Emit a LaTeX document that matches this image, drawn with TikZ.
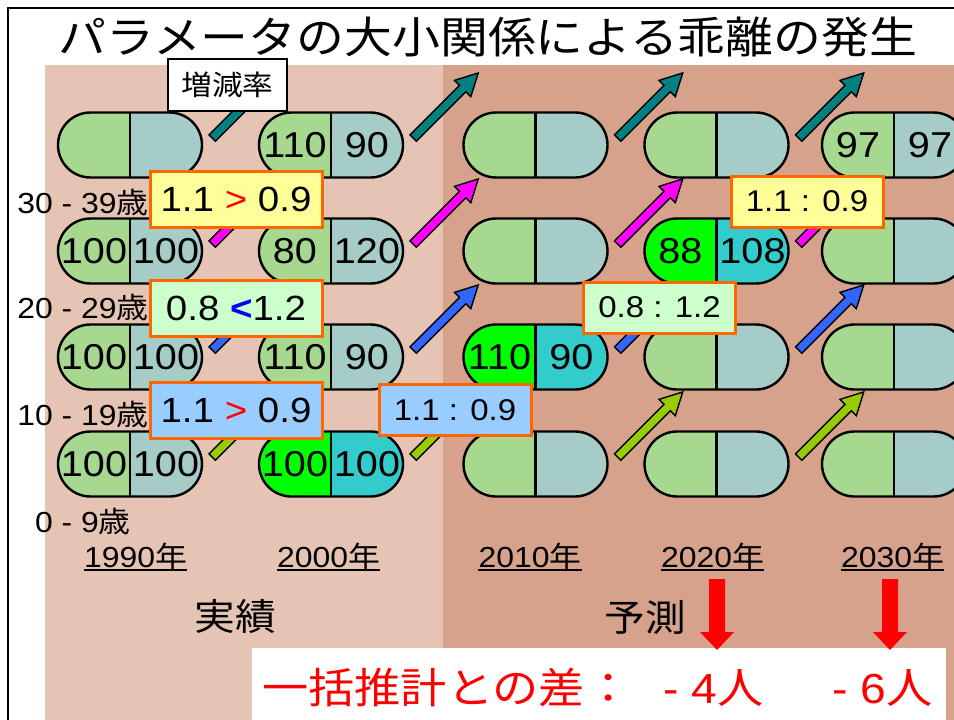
\documentclass[tikz,border=0pt]{standalone}
\usepackage{fontspec}
\setmainfont[FakeStretch=1.1]{Liberation Sans}
\newfontfamily\jp[FakeStretch=1.1]{Noto Sans CJK JP}
\usetikzlibrary{shapes.misc,calc}
\definecolor{bgl}{HTML}{E6C4B4}
\definecolor{bgd}{HTML}{D6A28C}
\definecolor{capl}{HTML}{A6D890}
\definecolor{capr}{HTML}{A6CCC8}
\definecolor{solidl}{HTML}{00FF00}
\definecolor{solidr}{HTML}{33CCCC}
\definecolor{rteal}{HTML}{008080}
\definecolor{rmag}{HTML}{FF00FF}
\definecolor{rblue}{HTML}{3366FF}
\definecolor{rolive}{HTML}{99CC00}
\definecolor{lyel}{HTML}{FFFF99}
\definecolor{lgrn}{HTML}{CCFFCC}
\definecolor{lblu}{HTML}{99CCFF}
\definecolor{lorange}{HTML}{FF6600}
\newcommand\fsz[1]{\fontsize{#1}{#1}\selectfont}
\newcommand\blkarrow[2]{%
  \begin{scope}[shift={($(#1.east)+(9,-7)$)}, rotate=45]
    \draw[line width=1.4pt, line join=miter, fill=#2]
      (0,-4.5) -- (70,-4.5) -- (70,-11.5) -- (92,0) -- (70,11.5) -- (70,4.5) -- (0,4.5) -- cycle;
  \end{scope}}
\newcommand\capnums[3]{%
  \node[num] (#1l) at ([xshift=-36pt]#1.center) {#2};
  \node[num] (#1r) at ([xshift=36pt]#1.center) {#3};}
\begin{document}
\begin{tikzpicture}[x=1pt,y=-1pt,
  capsule/.style 2 args={rounded rectangle, draw, line width=2.4pt,
    minimum width=144pt, minimum height=65pt, inner sep=0pt,
    path picture={
      \fill[#1] (path picture bounding box.south west) rectangle (path picture bounding box.north);
      \fill[#2] (path picture bounding box.south) rectangle (path picture bounding box.north east);
      \draw[line width=2.4pt] (path picture bounding box.south) -- (path picture bounding box.north);}},
  pat/.style={capsule={capl}{capr}},
  sol/.style={capsule={solidl}{solidr}},
  num/.style={font=\fsz{36}, inner sep=0pt},
  biglbl/.style={draw=lorange, line width=3pt, inner sep=0pt, minimum width=172pt, minimum height=56pt, font=\fsz{35}},
  smalllbl/.style={draw=lorange, line width=3pt, inner sep=0pt, minimum width=152pt, minimum height=51pt, font=\fsz{30}},
  agelbl/.style={font=\fsz{29}, inner sep=0pt},
  yearlbl/.style={font=\fsz{29}, anchor=base, inner sep=0pt},
  ulinestyle/.style={line width=1.6pt},
  bigjp/.style={font=\fsz{37}\jp, inner sep=0pt},
  difftxt/.style={font=\fsz{42}, text=red, anchor=base west, inner sep=0pt}
]
\useasboundingbox (0,0) rectangle (954,720);
% backgrounds
\fill[bgl] (45,65) rectangle (443,720);
\fill[bgd] (443,65) rectangle (954,720);
% frame
\draw[line width=2pt] (954,8) -- (8,8) -- (8,720);
% title
\node[font=\fsz{43.5}\jp, inner sep=0pt] (title) at (488,37) {パラメータの大小関係による乖離の発生};
% capsules
\node[pat] (c11) at (130,145) {};
\node[pat] (c12) at (130,251) {};
\node[pat] (c13) at (130,357) {};
\node[pat] (c14) at (130,464) {};
\node[pat] (c21) at (331,145) {};
\node[pat] (c22) at (331,251) {};
\node[pat] (c23) at (331,357) {};
\node[sol] (c24) at (331,464) {};
\node[pat] (c31) at (535.5,145) {};
\node[pat] (c32) at (535.5,251) {};
\node[sol] (c33) at (535.5,357) {};
\node[pat] (c34) at (535.5,464) {};
\node[pat] (c41) at (716.5,145) {};
\node[sol] (c42) at (716.5,251) {};
\node[pat] (c43) at (716.5,357) {};
\node[pat] (c44) at (716.5,464) {};
\node[pat] (c51) at (894,145) {};
\node[pat] (c52) at (894,251) {};
\node[pat] (c53) at (894,357) {};
\node[pat] (c54) at (894,464) {};
% numbers
\capnums{c12}{100}{100}
\capnums{c13}{100}{100}
\capnums{c14}{100}{100}
\capnums{c21}{110}{90}
\capnums{c22}{80}{120}
\capnums{c23}{110}{90}
\capnums{c24}{100}{100}
\capnums{c33}{110}{90}
\capnums{c42}{88}{108}
\capnums{c51}{97}{97}
% arrows
\foreach \c in {1,2,3,4}{
  \blkarrow{c\c1}{rteal}
  \blkarrow{c\c2}{rmag}
  \blkarrow{c\c3}{rblue}
  \blkarrow{c\c4}{rolive}
}
% labels
\node[draw, line width=2pt, fill=white, minimum width=119pt, minimum height=52pt, inner sep=0pt, font=\fsz{28}\jp] (zr) at (227.5,85) {増減率};
\node[biglbl, fill=lyel] (l1) at (236,199) {1.1 {\color{red}>} 0.9};
\node[biglbl, fill=lgrn] (l2) at (236,308.5) {0.8 {\color{blue}\bfseries <}1.2};
\node[biglbl, fill=lblu] (l3) at (236,410.5) {1.1 {\color{red}>} 0.9};
\node[smalllbl, fill=lblu] (s1) at (455,410) {1.1 : 0.9};
\node[smalllbl, fill=lgrn] (s2) at (659.5,307.5) {0.8 : 1.2};
\node[smalllbl, fill=lyel] (s3) at (807,201.5) {1.1 : 0.9};
% age labels
\node[agelbl] (a3) at (83,203) {30 - 39{\jp 歳}};
\node[agelbl] (a2) at (83,308) {20 - 29{\jp 歳}};
\node[agelbl] (a1) at (83,415) {10 - 19{\jp 歳}};
\node[agelbl] (a0) at (83,522) {0 - 9{\jp 歳}};
% years
\node[yearlbl] (y1) at (135.5,567) {1990{\jp 年}};
\node[yearlbl] (y2) at (328.5,567) {2000{\jp 年}};
\node[yearlbl] (y3) at (530,567) {2010{\jp 年}};
\node[yearlbl] (y4) at (712.5,567) {2020{\jp 年}};
\node[yearlbl] (y5) at (892.5,567) {2030{\jp 年}};
\foreach \y in {y1,y2,y3,y4,y5}{
  \draw[ulinestyle] ([yshift=-3pt]\y.base west) -- ([yshift=-3pt]\y.base east);
}
% jisseki / yosoku
\node[bigjp] (jis) at (235,617) {実績};
\node[bigjp] (yos) at (645,617) {予測};
% bottom box
\fill[white] (252,648) rectangle (946,720);
\node[difftxt] (d1) at (262,703) {\jp 一括推計との差：};
\node[difftxt] (d2) at (663,703) {- 4{\jp 人}};
\node[difftxt] (d3) at (832,703) {- 6{\jp 人}};
% red arrows
\fill[red] (709,579) -- (725,579) -- (725,632) -- (734,632) -- (717,650) -- (700,632) -- (709,632) -- cycle;
\fill[red] (882,579) -- (898,579) -- (898,632) -- (907,632) -- (890,650) -- (873,632) -- (882,632) -- cycle;
\end{tikzpicture}
\end{document}
